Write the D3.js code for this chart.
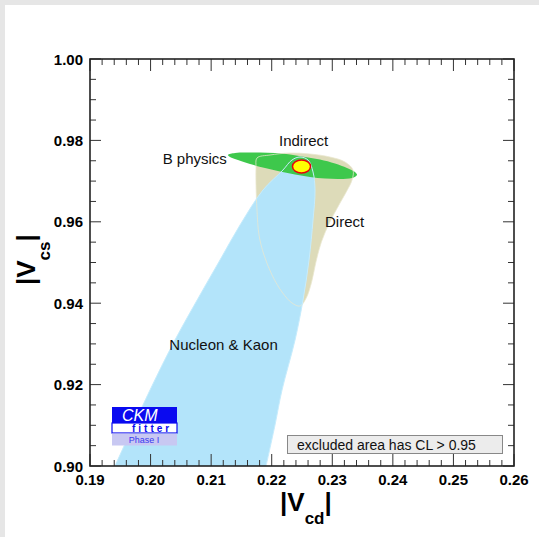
<!DOCTYPE html>
<html><head><meta charset="utf-8">
<script src="https://cdn.jsdelivr.net/npm/d3@7/dist/d3.min.js"></script>
<style>body{margin:0;background:#fff}svg{display:block}</style>
</head><body>
<svg id="c" width="539" height="537"></svg>
<script>
// ---- data ----
const xTicks = [0.19, 0.20, 0.21, 0.22, 0.23, 0.24, 0.25, 0.26];
const xTickLabels = ["0.19", "0.20", "0.21", "0.22", "0.23", "0.24", "0.25", "0.26"];
const yTicks = [0.90, 0.92, 0.94, 0.96, 0.98, 1.00];
const yTickLabels = ["0.90", "0.92", "0.94", "0.96", "0.98", "1.00"];

// Nucleon & Kaon constraint (|Vcd|, |Vcs|)
const nucleonKaon = [
  [0.19413, 0.9000], [0.19991, 0.91867], [0.20403, 0.93096], [0.20816, 0.94201],
  [0.21146, 0.95061], [0.21477, 0.95921], [0.21856, 0.96781], [0.22186, 0.97273],
  [0.22335, 0.97519], [0.22467, 0.97592], [0.22599, 0.97519], [0.22682, 0.97224],
  [0.22715, 0.96781], [0.22682, 0.96044], [0.22616, 0.95061], [0.22517, 0.94079],
  [0.22385, 0.93096], [0.22170, 0.91867], [0.22054, 0.91007], [0.21906, 0.9000]
];
// Direct measurement contour
const direct = [
  [0.21757, 0.97568], [0.21972, 0.97641], [0.22302, 0.97690], [0.22632, 0.97666],
  [0.22962, 0.97592], [0.23210, 0.97469], [0.23342, 0.97273], [0.23326, 0.97027],
  [0.23230, 0.96732], [0.23110, 0.96413], [0.22960, 0.95995], [0.22820, 0.95504],
  [0.22730, 0.95012], [0.22659, 0.94521], [0.22570, 0.94128], [0.22467, 0.93931],
  [0.22335, 0.94005], [0.22170, 0.94275], [0.22005, 0.94693], [0.21873, 0.95184],
  [0.21790, 0.95676], [0.21757, 0.96290], [0.21741, 0.96904], [0.21741, 0.97322]
];
// B physics (indirect) contour
const bPhysics = [
  [0.21278, 0.97641], [0.21394, 0.97690], [0.21559, 0.97703], [0.21807, 0.97703],
  [0.22054, 0.97690], [0.22302, 0.97654], [0.22550, 0.97592], [0.22797, 0.97531],
  [0.23045, 0.97432], [0.23243, 0.97322], [0.23375, 0.97224], [0.23408, 0.97150],
  [0.23326, 0.97076], [0.23128, 0.97052], [0.22880, 0.97064], [0.22632, 0.97101],
  [0.22385, 0.97162], [0.22137, 0.97236], [0.21889, 0.97322], [0.21642, 0.97420],
  [0.21443, 0.97519], [0.21311, 0.97592]
];
// Combined fit ellipse: centre and half-widths
const fitCenter = [0.22492, 0.97359];
const fitHalfWidth = [0.00149, 0.00160];

const labels = [
  {text: "Indirect", x: 0.2212, y: 0.9787},
  {text: "B physics", x: 0.2020, y: 0.9742},
  {text: "Direct", x: 0.2288, y: 0.9587},
  {text: "Nucleon & Kaon", x: 0.2031, y: 0.9285}
];

// ---- drawing ----
const svg = d3.select("#c");
const FONT = "'Liberation Sans', Arial, Helvetica, sans-serif";
const x = d3.scaleLinear().domain([0.19, 0.26]).range([90, 514]);
const y = d3.scaleLinear().domain([0.90, 1.00]).range([466, 59]);

// page border strips
svg.append("rect").attr("x", 0).attr("y", 0).attr("width", 539).attr("height", 5).attr("fill", "#e6e6e6");
svg.append("rect").attr("x", 0).attr("y", 0).attr("width", 5).attr("height", 537).attr("fill", "#e6e6e6");

svg.append("clipPath").attr("id", "clip").append("rect")
  .attr("x", x(0.19)).attr("y", y(1.0)).attr("width", x(0.26) - x(0.19)).attr("height", y(0.9) - y(1.0));

const g = svg.append("g").attr("clip-path", "url(#clip)");
const closed = d3.line().x(d => x(d[0])).y(d => y(d[1])).curve(d3.curveCatmullRomClosed);
const open = d3.line().x(d => x(d[0])).y(d => y(d[1])).curve(d3.curveCatmullRom);

g.append("path").attr("d", closed(direct)).attr("fill", "#dddbb9");
g.append("path").attr("d", open(nucleonKaon) + "Z").attr("fill", "#b3e4fa");
g.append("path").attr("d", closed(bPhysics)).attr("fill", "#3ec84c");
g.append("path").attr("d", closed(direct)).attr("fill", "none").attr("stroke", "#e9e7cf").attr("stroke-width", 1).attr("opacity", 0.75);
g.append("path").attr("d", open(nucleonKaon)).attr("fill", "none").attr("stroke", "#c6ecfd").attr("stroke-width", 1);
g.append("ellipse")
  .attr("cx", x(fitCenter[0])).attr("cy", y(fitCenter[1]))
  .attr("rx", x(fitCenter[0] + fitHalfWidth[0]) - x(fitCenter[0]))
  .attr("ry", y(fitCenter[1]) - y(fitCenter[1] + fitHalfWidth[1]))
  .attr("fill", "#ffff00").attr("stroke", "#e8000b").attr("stroke-width", 1.5);

// region labels
svg.selectAll("text.lab").data(labels).enter().append("text")
  .attr("class", "lab").attr("x", d => x(d.x)).attr("y", d => y(d.y))
  .attr("font-family", FONT).attr("font-size", 15).attr("fill", "#111").text(d => d.text);

// frame and ticks
const tk = svg.append("g").attr("stroke", "#333").attr("stroke-width", 1);
const xMinor = d3.range(0.19, 0.2601, 0.002);
const yMinor = d3.range(0.90, 1.0001, 0.005);
xMinor.forEach(v => {
  const major = xTicks.some(t => Math.abs(t - v) < 1e-6);
  const L = major ? 12 : 6;
  tk.append("line").attr("x1", x(v)).attr("x2", x(v)).attr("y1", y(0.9)).attr("y2", y(0.9) - L);
  tk.append("line").attr("x1", x(v)).attr("x2", x(v)).attr("y1", y(1.0)).attr("y2", y(1.0) + L);
});
yMinor.forEach(v => {
  const major = yTicks.some(t => Math.abs(t - v) < 1e-6);
  const L = major ? 11 : 6;
  tk.append("line").attr("y1", y(v)).attr("y2", y(v)).attr("x1", x(0.19)).attr("x2", x(0.19) + L);
  tk.append("line").attr("y1", y(v)).attr("y2", y(v)).attr("x1", x(0.26)).attr("x2", x(0.26) - L);
});
svg.append("rect").attr("x", x(0.19)).attr("y", y(1.0))
  .attr("width", x(0.26) - x(0.19)).attr("height", y(0.9) - y(1.0))
  .attr("fill", "none").attr("stroke", "#222").attr("stroke-width", 1.6);

// tick labels
svg.selectAll("text.xt").data(xTicks).enter().append("text")
  .attr("x", d => x(d)).attr("y", 485).attr("text-anchor", "middle")
  .attr("font-family", FONT).attr("font-weight", "bold").attr("font-size", 15)
  .text((d, i) => xTickLabels[i]);
svg.selectAll("text.yt").data(yTicks).enter().append("text")
  .attr("x", 83).attr("y", d => y(d) + 5.5).attr("text-anchor", "end")
  .attr("font-family", FONT).attr("font-weight", "bold").attr("font-size", 15)
  .text((d, i) => yTickLabels[i]);

// axis titles
const xt = svg.append("text").attr("x", 280).attr("y", 511)
  .attr("font-family", FONT).attr("font-weight", "bold").attr("font-size", 26);
xt.append("tspan").text("|V");
xt.append("tspan").attr("font-size", 17).attr("dy", 13).text("cd");
xt.append("tspan").attr("dy", -13).text("|");

const yt = svg.append("text").attr("transform", "translate(35,285) rotate(-90)")
  .attr("font-family", FONT).attr("font-weight", "bold").attr("font-size", 26);
yt.append("tspan").text("|V");
yt.append("tspan").attr("font-size", 17).attr("dy", 15).text("cs");
yt.append("tspan").attr("dy", -15).text("|");

// legend box
svg.append("rect").attr("x", 287.5).attr("y", 435.5).attr("width", 215).attr("height", 18)
  .attr("fill", "#ececec").attr("stroke", "#888").attr("stroke-width", 1);
svg.append("text").attr("x", 297).attr("y", 450).attr("font-family", FONT).attr("font-size", 14)
  .attr("fill", "#111").text("excluded area has CL > 0.95");

// CKMfitter logo
const lg = svg.append("g").attr("transform", "translate(112,407)");
lg.append("rect").attr("width", 65).attr("height", 16).attr("fill", "#0a0af0");
lg.append("rect").attr("y", 16).attr("width", 65).attr("height", 10).attr("fill", "#ffffff").attr("stroke", "#0a0af0").attr("stroke-width", 1.2);
lg.append("rect").attr("y", 26.5).attr("width", 65).attr("height", 12).attr("fill", "#c8c8f2");
lg.append("text").attr("x", 10).attr("y", 13.5).attr("font-family", FONT).attr("font-style", "italic")
  .attr("font-size", 16).attr("fill", "#fff").text("CKM");
lg.append("text").attr("x", 20).attr("y", 24.5).attr("font-family", FONT).attr("font-weight", "bold")
  .attr("font-size", 10).attr("letter-spacing", 3).attr("fill", "#0a0af0").text("fitter");
lg.append("text").attr("x", 32).attr("y", 36).attr("text-anchor", "middle").attr("font-family", FONT)
  .attr("font-size", 9).attr("fill", "#3a3af0").text("Phase I");
</script>
</body></html>
